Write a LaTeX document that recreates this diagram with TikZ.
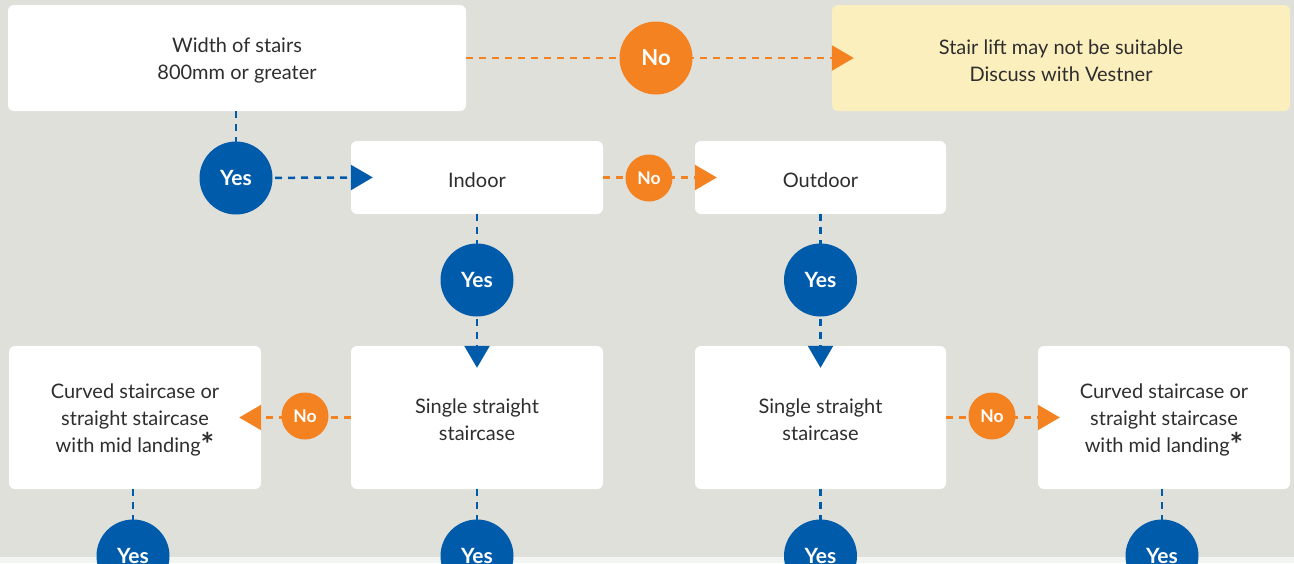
\documentclass[tikz,border=0pt]{standalone}
\usepackage{fontspec}
\setmainfont{Lato}
\usetikzlibrary{arrows.meta}
\definecolor{bgc}{HTML}{E0E0DA}
\definecolor{stripc}{HTML}{F3F5F2}
\definecolor{bluec}{HTML}{005BAA}
\definecolor{orangec}{HTML}{F58220}
\definecolor{yellowc}{HTML}{FCEFBE}
\definecolor{txtc}{HTML}{2E2E2E}
\newcommand{\topfix}{\rule{0pt}{20pt}}
\newcommand{\bigast}{\raisebox{-4pt}{\bfseries\fontsize{32}{32}\selectfont*}}
\begin{document}
\begin{tikzpicture}[x=1pt,y=-1pt,
  boxn/.style={fill=white, rounded corners=6pt, inner sep=0pt, align=center, text=txtc,
    font=\fontsize{20}{27}\selectfont},
  yesc/.style={circle, fill=bluec, minimum size=73pt, inner sep=0pt, text=white,
    font=\bfseries\fontsize{21}{24}\selectfont},
  nobig/.style={circle, fill=orangec, minimum size=73pt, inner sep=0pt, text=white,
    font=\bfseries\fontsize{22}{24}\selectfont},
  nosmall/.style={circle, fill=orangec, minimum size=47pt, inner sep=0pt, text=white,
    font=\bfseries\fontsize{17.5}{20}\selectfont},
  bline/.style={draw=bluec, line width=2.5pt, dash pattern=on 7pt off 6pt},
  oline/.style={draw=orangec, line width=2.5pt, dash pattern=on 7pt off 6pt},
  tip/.style={-{Triangle[length=22pt,width=25pt]}, shorten >=-22pt}
]
\fill[bgc] (0,0) rectangle (1294,557);
\fill[stripc] (0,557) rectangle (1294,563);
\useasboundingbox (0,0) rectangle (1294,563);

% boxes
\node[boxn, minimum width=458pt, minimum height=106pt] (wid) at (237,58) {\topfix Width of stairs\\800mm or greater};
\node[boxn, fill=yellowc, minimum width=458pt, minimum height=106pt] (suit) at (1061,58) {\topfix Stair lift may not be suitable\\Discuss with Vestner};
\node[boxn, minimum width=252pt, minimum height=73pt] (indoor) at (477,177.5) {\topfix Indoor};
\node[boxn, minimum width=251pt, minimum height=73pt] (outdoor) at (820.5,177.5) {\topfix Outdoor};
\node[boxn, minimum width=252pt, minimum height=143pt] (curvA) at (135,417.5) {\topfix Curved staircase or\\straight staircase\\with mid landing\bigast};
\node[boxn, minimum width=252pt, minimum height=143pt] (singB) at (477,417.5) {\topfix Single straight\\staircase};
\node[boxn, minimum width=251pt, minimum height=143pt] (singC) at (820.5,417.5) {\topfix Single straight\\staircase};
\node[boxn, minimum width=252pt, minimum height=143pt] (curvD) at (1164,417.5) {\topfix Curved staircase or\\straight staircase\\with mid landing\bigast};

% circle positions
\coordinate (pno1) at (656,58);
\coordinate (pyes1) at (236,178);
\coordinate (pno2) at (649,178);
\coordinate (pyes2) at (477,280);
\coordinate (pyes3) at (820.5,280);
\coordinate (pno3) at (305,416);
\coordinate (pno4) at (992,416);
\coordinate (pyes4) at (133,556);
\coordinate (pyes5) at (477,556);
\coordinate (pyes6) at (820.5,556);
\coordinate (pyes7) at (1162,556);

% connectors
\draw[oline, tip] (wid.east) -- (suit.west);
\draw[bline] (wid.south -| pyes1) -- (pyes1);
\draw[bline, tip] (pyes1) -- (indoor.west);
\draw[oline, tip] (indoor.east) -- (outdoor.west);
\draw[bline] (indoor.south) -- (pyes2);
\draw[bline, tip] (pyes2) -- (singB.north);
\draw[bline] (outdoor.south) -- (pyes3);
\draw[bline, tip] (pyes3) -- (singC.north);
\draw[oline, tip] (singB.west) -- (curvA.east);
\draw[oline, tip] (singC.east) -- (curvD.west);
\draw[bline] (curvA.south -| pyes4) -- (pyes4);
\draw[bline] (singB.south) -- (pyes5);
\draw[bline] (singC.south) -- (pyes6);
\draw[bline] (curvD.south -| pyes7) -- (pyes7);

% circles
\node[nobig] (no1) at (pno1) {No};
\node[yesc] (yes1) at (pyes1) {Yes};
\node[nosmall] (no2) at (pno2) {No};
\node[yesc] (yes2) at (pyes2) {Yes};
\node[yesc] (yes3) at (pyes3) {Yes};
\node[nosmall] (no3) at (pno3) {No};
\node[nosmall] (no4) at (pno4) {No};
\node[yesc] (yes4) at (pyes4) {Yes};
\node[yesc] (yes5) at (pyes5) {Yes};
\node[yesc] (yes6) at (pyes6) {Yes};
\node[yesc] (yes7) at (pyes7) {Yes};
\end{tikzpicture}
\end{document}
